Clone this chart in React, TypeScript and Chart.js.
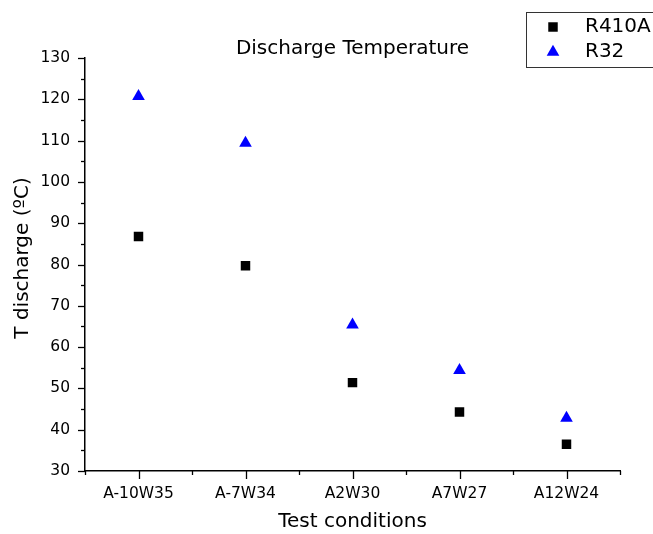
import React, { useEffect, useRef } from "react";
import { Chart, registerables } from "chart.js";

Chart.register(...registerables);

const categories = ["A-10W35", "A-7W34", "A2W30", "A7W27", "A12W24"];
const r410aValues = [86.8, 79.7, 51.4, 44.3, 36.5];
const r32Values = [120.7, 109.4, 65.4, 54.4, 42.8];
const seriesNames = ["R410A", "R32"];
const yMin = 30;
const yMax = 130;
const yStep = 10;
const chartTitle = "Discharge Temperature";
const xTitle = "Test conditions";
const yTitle = "T discharge (ºC)";

const FONT = "'DejaVu Sans', sans-serif";

function drawMarker(ctx: CanvasRenderingContext2D, style: string, x: number, y: number, r: number, color: string) {
  ctx.save();
  ctx.fillStyle = color;
  ctx.beginPath();
  if (style === "rect") {
    const s = Math.SQRT1_2 * r;
    ctx.rect(x - s, y - s, 2 * s, 2 * s);
  } else {
    let rad = 0;
    for (let i = 0; i < 3; i++) {
      const px = x + Math.sin(rad) * r;
      const py = y - Math.cos(rad) * r;
      if (i === 0) ctx.moveTo(px, py);
      else ctx.lineTo(px, py);
      rad += (2 * Math.PI) / 3;
    }
    ctx.closePath();
  }
  ctx.fill();
  ctx.restore();
}

const decorPlugin = {
  id: "decor",
  afterDraw(chart: any) {
    const ctx: CanvasRenderingContext2D = chart.ctx;
    const { left, right, bottom } = chart.chartArea;
    const xs = chart.scales.x;
    const ys = chart.scales.y;
    ctx.save();
    ctx.strokeStyle = "#000";
    ctx.lineWidth = 1.3;
    // y ticks
    for (let v = yMin; v <= yMax + 0.001; v += yStep / 2) {
      const py = Math.round(ys.getPixelForValue(v)) + 0.5;
      const major = Math.abs((v - yMin) % yStep) < 0.001;
      const len = major ? 7 : 4;
      ctx.beginPath();
      ctx.moveTo(left, py);
      ctx.lineTo(left - len, py);
      ctx.stroke();
    }
    // x ticks
    for (let i = 0; i < categories.length; i++) {
      const px = Math.round(xs.getPixelForValue(i)) + 0.5;
      ctx.beginPath();
      ctx.moveTo(px, bottom);
      ctx.lineTo(px, bottom + 8);
      ctx.stroke();
    }
    for (let i = 0; i <= categories.length; i++) {
      const px = Math.round(xs.getPixelForValue(i - 0.5)) + 0.5;
      ctx.beginPath();
      ctx.moveTo(px, bottom);
      ctx.lineTo(px, bottom + 4);
      ctx.stroke();
    }
    // titles
    ctx.fillStyle = "#000";
    ctx.textAlign = "center";
    ctx.textBaseline = "middle";
    ctx.font = `20px ${FONT}`;
    ctx.fillText(chartTitle, (left + right) / 2, 49);
    ctx.fillText(xTitle, (left + right) / 2, 522);
    ctx.save();
    ctx.translate(23, 258);
    ctx.rotate(-Math.PI / 2);
    ctx.fillText(yTitle, 0, 0);
    ctx.restore();
    // legend
    ctx.lineWidth = 1;
    ctx.strokeStyle = "#333";
    ctx.strokeRect(526.5, 12.5, 200, 55);
    const ds = chart.data.datasets;
    const rows = [27, 52];
    ds.forEach((d: any, i: number) => {
      drawMarker(ctx, d.pointStyle, 553, rows[i], d.pointRadius, d.backgroundColor);
      ctx.fillStyle = "#000";
      ctx.textAlign = "left";
      ctx.font = `20px ${FONT}`;
      ctx.fillText(d.label, 585, rows[i]);
    });
    ctx.restore();
  },
};

export default function App() {
  const ref = useRef<HTMLCanvasElement | null>(null);
  useEffect(() => {
    if (!ref.current) return;
    const chart = new Chart(ref.current, {
      type: "line",
      data: {
        labels: categories,
        datasets: [
          {
            label: seriesNames[0],
            data: r410aValues,
            showLine: false,
            pointStyle: "rect",
            pointRadius: 6.7,
            pointHoverRadius: 6.7,
            pointBorderWidth: 0,
            backgroundColor: "#000000",
            borderColor: "#000000",
          },
          {
            label: seriesNames[1],
            data: r32Values,
            showLine: false,
            pointStyle: "triangle",
            pointRadius: 7.3,
            pointHoverRadius: 7.3,
            pointBorderWidth: 0,
            backgroundColor: "#0000ff",
            borderColor: "#0000ff",
          },
        ],
      },
      options: {
        animation: false,
        responsive: true,
        maintainAspectRatio: false,
        layout: { padding: { left: 0, right: 33, top: 58, bottom: 0 } },
        plugins: {
          legend: { display: false },
          title: { display: false },
          tooltip: { enabled: false },
        },
        scales: {
          x: {
            type: "category",
            offset: true,
            grid: { display: false, drawTicks: false, offset: true },
            border: { display: true, color: "#000", width: 1.5 },
            ticks: {
              color: "#000",
              font: { family: FONT, size: 15.5 },
              padding: 14,
              maxRotation: 0,
              autoSkip: false,
            },
            afterFit: (s: any) => {
              s.height = 63;
            },
          },
          y: {
            type: "linear",
            min: yMin,
            max: yMax,
            grid: { display: false, drawTicks: false },
            border: { display: true, color: "#000", width: 1.5 },
            ticks: {
              stepSize: yStep,
              color: "#000",
              font: { family: FONT, size: 15.5 },
              padding: 15,
            },
            afterFit: (s: any) => {
              s.width = 85;
            },
          },
        },
      },
      plugins: [decorPlugin],
    });
    return () => chart.destroy();
  }, []);
  return (
    <div style={{ position: "fixed", left: 0, top: 0, width: 653, height: 534, background: "#fff" }}>
      <canvas ref={ref} />
    </div>
  );
}
